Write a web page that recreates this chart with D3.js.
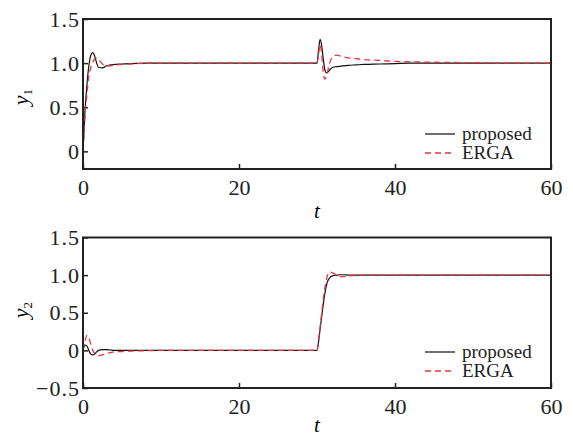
<!DOCTYPE html>
<html>
<head>
<meta charset="utf-8">
<script src="https://cdn.jsdelivr.net/npm/d3@7"></script>
<style>
  body { margin: 0; background: #fff; }
  svg text { font-family: "Liberation Serif", "DejaVu Serif", serif; }
  .axis text { font-size: 22px; fill: #222; }
  .axis.yax text { letter-spacing: 1px; }
  .axis path { display: none; }
  .axis line { stroke: #222; stroke-width: 1.5; }
</style>
</head>
<body>
<svg id="chart" width="573" height="439"></svg>
<script>
// ---- data ----
const xTicks = [0, 20, 40, 60];
const y1Ticks = [0, 0.5, 1.0, 1.5];
const y2Ticks = [-0.5, 0, 0.5, 1.0, 1.5];
const legendLabels = ["proposed", "ERGA"];

const t1 = [0, 0.25, 0.5, 0.75, 1, 1.25, 1.5, 1.75, 2, 2.5, 3, 3.5, 4, 5, 6, 8, 10,
  30, 30.2, 30.4, 30.6, 30.8, 31, 31.2, 31.4, 31.7, 32, 32.5, 33, 34, 35, 36, 38, 40, 42, 45, 50, 55, 60];
const y1Proposed = [0, 0.45, 0.75, 0.97, 1.09, 1.12, 1.08, 1.0, 0.95, 0.945, 0.97, 0.98, 0.985, 0.99, 0.995, 1.0, 1.0,
  1.0, 1.15, 1.27, 1.2, 1.05, 0.93, 0.89, 0.9, 0.93, 0.95, 0.96, 0.965, 0.975, 0.98, 0.985, 0.99, 0.995, 1.0, 1.0, 1.0, 1.0, 1.0];
const y1ERGA = [0, 0.38, 0.65, 0.85, 0.95, 1.01, 1.05, 1.06, 1.04, 0.99, 0.965, 0.97, 0.975, 0.985, 0.99, 0.998, 1.0,
  1.0, 1.1, 1.21, 1.1, 0.9, 0.82, 0.84, 0.92, 1.02, 1.07, 1.09, 1.08, 1.06, 1.05, 1.04, 1.03, 1.02, 1.015, 1.01, 1.005, 1.0, 1.0];

const t2 = [0, 0.25, 0.5, 0.75, 1, 1.25, 1.5, 1.75, 2, 2.5, 3, 3.5, 4, 5, 6, 8, 10,
  30, 30.3, 30.6, 31, 31.3, 31.6, 32, 32.5, 33, 33.5, 34, 35, 36, 38, 40, 45, 50, 60];
const y2Proposed = [0, 0.07, 0.06, 0.0, -0.05, -0.06, -0.05, -0.02, 0.0, 0.01, 0.01, 0.005, 0, 0, 0, 0, 0,
  0, 0.2, 0.45, 0.75, 0.9, 0.96, 0.99, 1.0, 1.005, 1.005, 1.0, 1.0, 1.0, 1.0, 1.0, 1.0, 1.0, 1.0];
const y2ERGA = [0, 0.12, 0.2, 0.17, 0.08, 0.0, -0.04, -0.06, -0.07, -0.06, -0.04, -0.03, -0.02, -0.015, -0.01, -0.005, 0,
  0, 0.22, 0.5, 0.82, 0.98, 1.04, 1.03, 1.0, 0.98, 0.98, 0.99, 0.995, 1.0, 1.0, 1.0, 1.0, 1.0, 1.0];

const svg = d3.select("#chart");
const serif = "'Liberation Serif', 'DejaVu Serif', serif";

const panels = [
  { top: 19, height: 150, domain: [-0.2, 1.5], ticks: y1Ticks, sub: "1", labelY: 97,
    t: t1, series: [y1Proposed, y1ERGA], legendY: 134, xLabelY: 218 },
  { top: 237.5, height: 150.5, domain: [-0.5, 1.5], ticks: y2Ticks, sub: "2", labelY: 310,
    t: t2, series: [y2Proposed, y2ERGA], legendY: 352, xLabelY: 432 }
];

const left = 83, width = 468;
const styles = [
  { stroke: "#111", dash: null, width: 1.2 },
  { stroke: "#e8323c", dash: "6,4", width: 1.3 }
];

const x = d3.scaleLinear().domain([0, 60]).range([0, width]);

panels.forEach(p => {
  const g = svg.append("g").attr("transform", `translate(${left},${p.top})`);
  const y = d3.scaleLinear().domain(p.domain).range([p.height, 0]);

  // axes with inward ticks
  g.append("g").attr("class", "axis")
    .attr("transform", `translate(0,${p.height})`)
    .call(d3.axisBottom(x).tickValues(xTicks).tickSize(-5).tickPadding(10))
    .attr("font-family", serif);

  g.append("g").attr("class", "axis yax")
    .call(d3.axisLeft(y).tickValues(p.ticks).tickSize(-5).tickPadding(3)
      .tickFormat(d => d === 0 ? "0" : d3.format(".1f")(d)))
    .attr("font-family", serif);

  // lines
  const line = d3.line()
    .x((d, i) => x(p.t[i]))
    .y(d => y(d))
    .curve(d3.curveMonotoneX);

  p.series.forEach((s, k) => {
    g.append("path")
      .attr("d", line(s))
      .attr("fill", "none")
      .attr("stroke", styles[k].stroke)
      .attr("stroke-width", styles[k].width)
      .attr("stroke-dasharray", styles[k].dash);
  });

  // frame
  g.append("rect")
    .attr("width", width).attr("height", p.height)
    .attr("fill", "none").attr("stroke", "#222").attr("stroke-width", 2);

  // y label
  const yl = svg.append("text")
    .attr("transform", `translate(28,${p.labelY}) rotate(-90)`)
    .attr("text-anchor", "middle")
    .attr("font-family", serif)
    .attr("font-size", 22);
  yl.append("tspan").attr("font-style", "italic").text("y");
  yl.append("tspan").attr("font-size", 13).attr("dy", 4).text(p.sub);

  // x label
  svg.append("text")
    .attr("x", left + x(30)).attr("y", p.xLabelY)
    .attr("text-anchor", "middle")
    .attr("font-family", serif)
    .attr("font-size", 21).attr("font-style", "italic")
    .text("t");

  // legend
  legendLabels.forEach((name, k) => {
    const ly = p.legendY + k * 19;
    svg.append("line")
      .attr("x1", 425).attr("x2", 455).attr("y1", ly).attr("y2", ly)
      .attr("stroke", styles[k].stroke)
      .attr("stroke-width", styles[k].width)
      .attr("stroke-dasharray", styles[k].dash);
    svg.append("text")
      .attr("x", 462).attr("y", ly + 6)
      .attr("font-family", serif)
      .attr("font-size", 19).attr("fill", "#222")
      .text(name);
  });
});
</script>
</body>
</html>
